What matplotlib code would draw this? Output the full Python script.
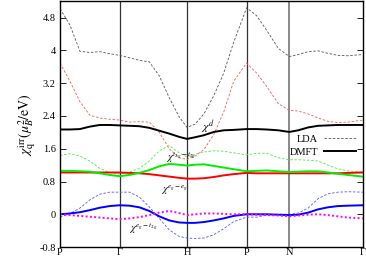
import matplotlib
matplotlib.use("Agg")
import matplotlib.pyplot as plt

# k-path positions (arbitrary units along path)
k = [0, 10, 20, 30, 40, 50, 60, 70, 80, 90, 100, 110, 120, 128, 136, 145, 155, 165,
     175, 188, 198, 208, 220, 231, 240, 250, 260, 270, 280, 290, 305]
sym_pos = [0, 60, 128, 188, 231, 305]
sym_labels = ["P", "Γ", "H", "P", "N", "Γ"]

lda_d = [5.02, 4.62, 3.98, 3.95, 3.97, 3.92, 3.88, 3.82, 3.76, 3.72, 3.38, 2.85,
         2.38, 2.12, 2.2, 2.45, 2.9, 3.45, 4.2, 5.04, 4.85, 4.5, 4.05, 3.85, 3.9,
         3.97, 3.99, 3.93, 3.88, 3.87, 3.9]
lda_t2g = [3.69, 3.25, 2.75, 2.42, 2.35, 2.32, 2.30, 2.25, 2.26, 2.25, 2.0, 1.6,
           1.38, 1.34, 1.42, 1.58, 1.95, 2.5, 3.25, 3.69, 3.45, 3.13, 2.7, 2.54,
           2.52, 2.45, 2.35, 2.27, 2.24, 2.25, 2.30]
lda_eg = [1.43, 1.48, 1.42, 1.3, 1.12, 1.02, 0.98, 1.03, 1.12, 1.3, 1.55, 1.68,
          1.5, 1.4, 1.47, 1.52, 1.55, 1.54, 1.5, 1.45, 1.49, 1.49, 1.38, 1.33,
          1.33, 1.32, 1.3, 1.2, 1.11, 1.06, 1.03]
lda_egt2g = [-0.07, 0.02, 0.15, 0.35, 0.49, 0.54, 0.54, 0.54, 0.42, 0.18, -0.1,
             -0.38, -0.54, -0.58, -0.59, -0.58, -0.5, -0.35, -0.18, -0.07, -0.07,
             -0.02, 0.0, 0.0, 0.03, 0.15, 0.38, 0.5, 0.54, 0.55, 0.54]

dmft_d = [2.07, 2.07, 2.08, 2.14, 2.18, 2.18, 2.17, 2.16, 2.15, 2.11, 2.04, 1.97,
          1.89, 1.84, 1.88, 1.93, 2.01, 2.05, 2.06, 2.08, 2.08, 2.07, 2.05, 2.01,
          2.05, 2.12, 2.16, 2.17, 2.18, 2.18, 2.18]
dmft_green = [1.06, 1.06, 1.05, 1.04, 1.0, 0.96, 0.93, 0.96, 1.01, 1.08, 1.17, 1.23,
              1.21, 1.19, 1.21, 1.22, 1.18, 1.14, 1.1, 1.05, 1.06, 1.07, 1.05, 1.03,
              1.04, 1.05, 1.05, 1.02, 0.99, 0.96, 0.92]
dmft_red = [1.02, 1.02, 1.02, 1.02, 1.02, 1.02, 1.02, 1.01, 1.0, 0.98, 0.95, 0.92,
            0.89, 0.87, 0.87, 0.88, 0.91, 0.95, 0.98, 1.01, 1.0, 1.0, 1.0, 1.0,
            1.0, 1.0, 1.0, 1.0, 1.0, 1.01, 1.02]
dmft_blue = [0.0, 0.02, 0.05, 0.1, 0.16, 0.2, 0.22, 0.21, 0.17, 0.08, -0.05, -0.15,
             -0.2, -0.21, -0.21, -0.19, -0.15, -0.1, -0.04, 0.0, 0.0, 0.0, -0.01,
             -0.02, -0.01, 0.04, 0.12, 0.17, 0.2, 0.21, 0.22]
dmft_mag = [0.0, -0.02, -0.04, -0.06, -0.08, -0.1, -0.12, -0.1, -0.07, -0.02, 0.04,
            0.08, 0.03, -0.02, 0.0, 0.02, 0.02, 0.01, 0.0, 0.0, -0.01, -0.02, -0.03,
            -0.05, -0.03, -0.01, 0.0, -0.02, -0.05, -0.08, -0.1]

yticks = [-0.8, 0, 0.8, 1.6, 2.4, 3.2, 4.0, 4.8]
ytick_labels = ["-0.8", "0", "0.8", "1.6", "2.4", "3.2", "4", "4.8"]

plt.rcParams['font.family'] = ['Liberation Serif', 'DejaVu Serif']
plt.rcParams['mathtext.fontset'] = 'stix'

fig = plt.figure(figsize=(3.66, 2.56), dpi=100)
ax = fig.add_axes([0.164, 0.035, 0.827, 0.96])

for i, xp in enumerate(sym_pos[1:-1]):
    if sym_labels[i + 1] == "N":
        ax.axvline(xp, color="#888888", lw=1.4, zorder=1)
    else:
        ax.axvline(xp, color="#333333", lw=0.9, zorder=1)

dash = (0, (3, 2))
ax.plot(k, lda_d, color="#555555", lw=0.6, ls=dash)
ax.plot(k, lda_t2g, color="#ff5555", lw=0.6, ls=dash)
ax.plot(k, lda_eg, color="#44ee44", lw=0.6, ls=dash)
ax.plot(k, lda_egt2g, color="#5555ff", lw=0.6, ls=dash)

ax.plot(k, dmft_red, color="#ff0000", lw=1.4)
ax.plot(k, dmft_green, color="#00ee00", lw=1.4)
ax.plot(k, dmft_blue, color="#0000ff", lw=1.4)
ax.plot(k, dmft_mag, color="#ff00ff", lw=1.4, ls=(0, (1, 1.2)))
ax.plot(k, dmft_d, color="#000000", lw=1.4)

# legend handles
lda_h, = ax.plot([], [], color="#555555", lw=0.6, ls=dash, label="LDA")
dmft_h, = ax.plot([], [], color="black", lw=1.4, label="DMFT")
ax.legend(handles=[lda_h, dmft_h], loc="upper right", bbox_to_anchor=(0.99, 0.475),
          frameon=False, markerfirst=False, fontsize=7.5, handlelength=3.0,
          labelspacing=0.35, borderaxespad=0.0, handletextpad=0.6)

ax.text(142, 2.13, r"$\chi^{d}$", fontsize=8.5, va="center")
ax.text(107, 1.38, r"$\chi^{t_{2g}-t_{2g}}$", fontsize=7.5, va="center")
ax.text(102, 0.58, r"$\chi^{e_g-e_g}$", fontsize=7.5, va="center")
ax.text(70, -0.34, r"$\chi^{e_g-t_{2g}}$", fontsize=7.5, va="center")

ax.set_xlim(sym_pos[0], sym_pos[-1])
ax.set_ylim(-0.8, 5.2)
ax.set_xticks(sym_pos)
ax.set_xticklabels(sym_labels, fontsize=7.5)
ax.set_yticks(yticks)
ax.set_yticklabels(ytick_labels, fontsize=7.5)
ax.tick_params(axis="y", direction="in", length=4, width=0.6, right=True, pad=3)
ax.tick_params(axis="x", length=0, pad=1)
for s in ax.spines.values():
    s.set_linewidth(1.0)
ax.set_ylabel(r"$\chi_{\mathrm{q}}^{\mathrm{irr}}(\mu_B^2/\mathrm{eV})$", fontsize=10, labelpad=1)

fig.savefig("out.png", dpi=100)
